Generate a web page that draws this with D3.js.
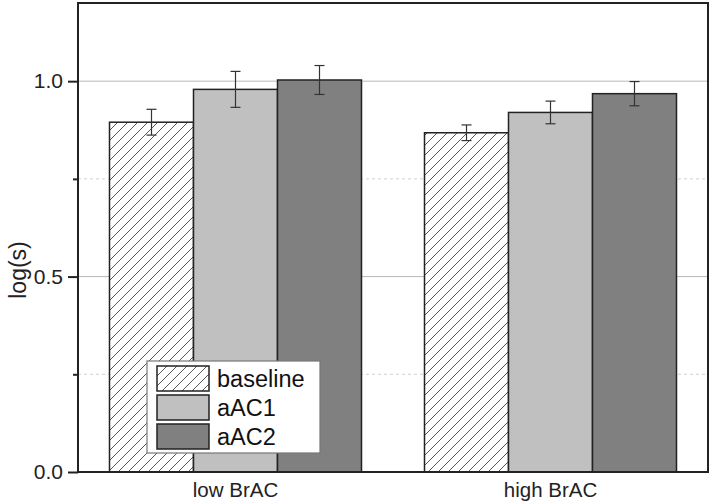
<html>
<head>
<style>
    body { margin: 0; background: #fff; font-family: "Liberation Sans", Arial, Helvetica, sans-serif; }
    svg { display: block; }
</style>
<script src="https://d3js.org/d3.v7.min.js"></script>
</head>
<body>
<svg id="chart"></svg>
<script>
// data
const groups = ["low BrAC", "high BrAC"]
const series = ["baseline", "aAC1", "aAC2"]
const means = [
  [0.895, 0.979, 1.003],
  [0.868, 0.920, 0.968]
]
const errs = [
  [0.033, 0.046, 0.037],
  [0.020, 0.029, 0.031]
]
const majorTicks = [0.0, 0.5, 1.0]
const minorTicks = [0.25, 0.75]

const width = 710, height = 504
const margin = {top: 3, right: 2, bottom: 32, left: 78}

const svg = d3.select("#chart").attr("width", width).attr("height", height)

const defs = svg.append("defs")
const pat = defs.append("pattern")
    .attr("id", "hatch")
    .attr("patternUnits", "userSpaceOnUse")
    .attr("width", 10).attr("height", 10)
pat.append("rect").attr("width", 10).attr("height", 10).attr("fill", "#fff")
pat.append("path")
    .attr("d", "M-1,1 l2,-2 M0,10 l10,-10 M9,11 l2,-2")
    .attr("stroke", "#444").attr("stroke-width", 0.9)

const fills = ["url(#hatch)", "#c0c0c0", "#808080"]

const x0 = d3.scaleBand().domain(groups)
    .range([margin.left, width - margin.right])
    .paddingInner(0.2).paddingOuter(0.1)
const x1 = d3.scaleBand().domain(series).range([0, x0.bandwidth()])
const y = d3.scaleLinear().domain([0, 1.2]).range([height - margin.bottom, margin.top])

// grid
svg.append("g").selectAll("line").data([0.5, 1.0]).join("line")
    .attr("x1", margin.left).attr("x2", width - margin.right)
    .attr("y1", d => y(d)).attr("y2", d => y(d))
    .attr("stroke", "#b8b8b8").attr("stroke-width", 1)
svg.append("g").selectAll("line").data(minorTicks).join("line")
    .attr("x1", margin.left).attr("x2", width - margin.right)
    .attr("y1", d => y(d)).attr("y2", d => y(d))
    .attr("stroke", "#d0d0d0").attr("stroke-width", 1)
    .attr("stroke-dasharray", "3,3")

// bars
const rows = []
groups.forEach((g, i) => series.forEach((s, j) => rows.push({g, s, j, v: means[i][j], e: errs[i][j]})))

svg.append("g").selectAll("rect").data(rows).join("rect")
    .attr("x", d => x0(d.g) + x1(d.s))
    .attr("y", d => y(d.v))
    .attr("width", x1.bandwidth())
    .attr("height", d => y(0) - y(d.v))
    .attr("fill", d => fills[d.j])
    .attr("stroke", "#222").attr("stroke-width", 1.5)

// error bars
const eb = svg.append("g").attr("stroke", "#333").attr("stroke-width", 1.2)
rows.forEach(d => {
  const cx = x0(d.g) + x1(d.s) + x1.bandwidth() / 2
  eb.append("line").attr("x1", cx).attr("x2", cx).attr("y1", y(d.v + d.e)).attr("y2", y(d.v - d.e))
  eb.append("line").attr("x1", cx - 5).attr("x2", cx + 5).attr("y1", y(d.v + d.e)).attr("y2", y(d.v + d.e))
  eb.append("line").attr("x1", cx - 5).attr("x2", cx + 5).attr("y1", y(d.v - d.e)).attr("y2", y(d.v - d.e))
})

// frame
svg.append("rect")
    .attr("x", margin.left).attr("y", margin.top)
    .attr("width", width - margin.right - margin.left)
    .attr("height", y(0) - margin.top)
    .attr("fill", "none").attr("stroke", "#222").attr("stroke-width", 2)

// y axis
const yAxis = svg.append("g")
    .attr("transform", `translate(${margin.left},0)`)
    .call(d3.axisLeft(y).tickValues(majorTicks).tickFormat(d3.format(".1f")).tickSize(10).tickPadding(5))
yAxis.select(".domain").remove()
yAxis.selectAll("line").attr("stroke", "#222").attr("stroke-width", 2)
yAxis.selectAll("text").attr("font-size", 21).attr("fill", "#222")
    .attr("font-family", "'Liberation Sans', Arial, sans-serif")

const yMinor = svg.append("g")
    .attr("transform", `translate(${margin.left},0)`)
    .call(d3.axisLeft(y).tickValues(minorTicks).tickFormat("").tickSize(5))
yMinor.select(".domain").remove()
yMinor.selectAll("line").attr("stroke", "#222").attr("stroke-width", 2)

svg.append("text")
    .attr("transform", "translate(26,270) rotate(-90)")
    .attr("text-anchor", "middle")
    .attr("font-size", 23).attr("fill", "#222")
    .text("log(s)")

// x labels
svg.append("g").selectAll("text").data(groups).join("text")
    .attr("x", d => x0(d) + x0.bandwidth() / 2)
    .attr("y", 497)
    .attr("text-anchor", "middle")
    .attr("font-size", 20.5).attr("fill", "#222")
    .text(d => d)

// legend
const lg = svg.append("g").attr("transform", "translate(147,361)")
lg.append("rect").attr("width", 173).attr("height", 92)
    .attr("fill", "#fff").attr("stroke", "#777").attr("stroke-width", 1.2)
const items = lg.selectAll("g").data(series).join("g")
    .attr("transform", (d, i) => `translate(10,${5 + i * 29})`)
items.append("rect").attr("width", 52).attr("height", 25)
    .attr("fill", (d, i) => fills[i])
    .attr("stroke", "#222").attr("stroke-width", 1.5)
items.append("text").attr("x", 60).attr("y", 21)
    .attr("font-size", 23.5).attr("fill", "#111")
    .text(d => d)
</script>
</body>
</html>
